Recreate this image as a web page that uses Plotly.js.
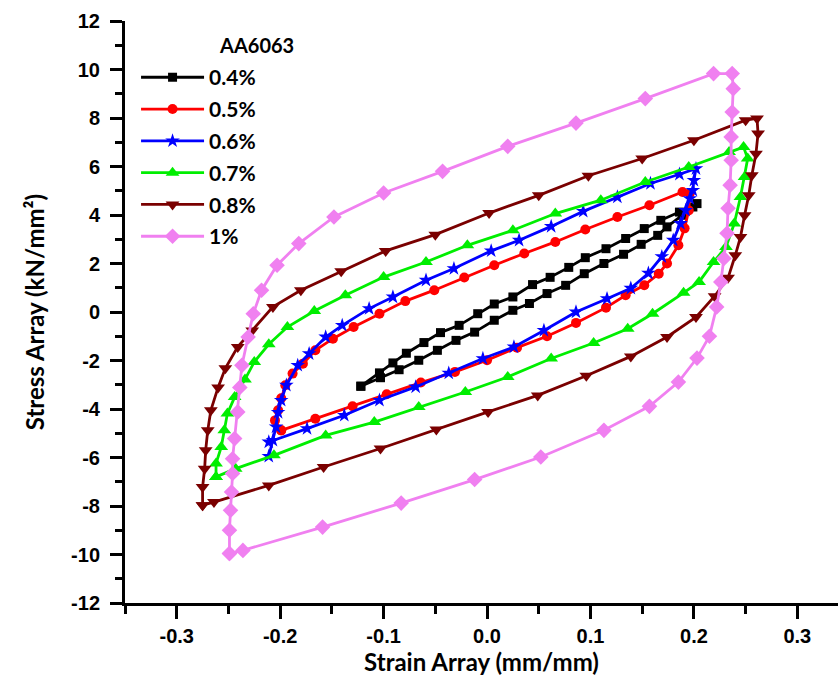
<!DOCTYPE html>
<html>
<head>
<meta charset="utf-8">
<script src="https://cdn.plot.ly/plotly-3.0.1.min.js"></script>
<style>html,body{margin:0;padding:0;background:#fff;}#chart{width:838px;height:690px;}</style>
</head>
<body>
<div id="chart"></div>
<script>
// ---- Data ----
const seriesNames = ["0.4%", "0.5%", "0.6%", "0.7%", "0.8%", "1%"];
const legendTitle = "AA6063";

const strain04 = [-0.122,-0.104,-0.091,-0.078,-0.061,-0.045,-0.027,-0.009,0.007,0.025,0.044,0.061,0.079,0.095,0.115,0.134,0.152,0.168,0.186,0.203,
                  0.199,0.189,0.174,0.165,0.149,0.132,0.113,0.094,0.076,0.058,0.041,0.025,0.007,-0.012,-0.030,-0.048,-0.066,-0.085,-0.103,-0.122];
const stress04 = [-3.06,-2.51,-2.10,-1.70,-1.26,-0.85,-0.55,-0.07,0.33,0.62,1.13,1.43,1.84,2.24,2.61,3.03,3.44,3.78,4.12,4.47,
                  4.33,3.99,3.51,3.16,2.79,2.38,2.00,1.58,1.10,0.76,0.35,0.07,-0.34,-0.83,-1.17,-1.58,-1.99,-2.38,-2.71,-3.06];

const strain05 = [-0.199,-0.205,-0.202,-0.199,-0.195,-0.188,-0.178,-0.166,-0.149,-0.129,-0.104,-0.079,-0.051,-0.022,0.007,0.036,0.066,0.095,0.126,0.157,0.189,
                  0.196,0.195,0.191,0.185,0.174,0.166,0.152,0.134,0.115,0.086,0.058,0.029,0.000,-0.031,-0.064,-0.097,-0.130,-0.166,-0.199];
const stress05 = [-4.88,-4.47,-4.05,-3.56,-3.02,-2.54,-2.13,-1.58,-1.10,-0.62,-0.07,0.45,0.90,1.42,1.93,2.41,2.89,3.40,3.92,4.40,4.95,
                  4.90,4.19,3.45,2.75,2.00,1.58,1.10,0.69,0.18,-0.45,-1.00,-1.47,-1.99,-2.47,-2.91,-3.39,-3.89,-4.40,-4.88];

const strain06 = [-0.211,-0.207,-0.204,-0.202,-0.199,-0.194,-0.183,-0.172,-0.156,-0.140,-0.114,-0.091,-0.059,-0.032,0.004,0.031,0.062,0.093,0.126,0.158,0.186,0.202,
                  0.200,0.199,0.196,0.192,0.187,0.180,0.169,0.156,0.139,0.116,0.086,0.055,0.026,-0.004,-0.037,-0.069,-0.104,-0.138,-0.174,-0.211];
const stress06 = [-5.95,-5.29,-4.74,-4.14,-3.64,-3.02,-2.20,-1.72,-1.03,-0.55,0.14,0.62,1.31,1.79,2.52,2.96,3.53,4.15,4.74,5.30,5.68,5.91,
                  5.43,5.02,4.68,4.19,3.65,2.96,2.28,1.60,0.98,0.55,0.00,-0.76,-1.44,-1.92,-2.52,-3.09,-3.64,-4.26,-4.81,-5.36,-5.95];

const strain07 = [-0.262,-0.262,-0.257,-0.254,-0.251,-0.244,-0.234,-0.225,-0.211,-0.193,-0.167,-0.137,-0.100,-0.059,-0.019,0.025,0.066,0.110,0.153,0.195,0.234,0.248,
                  0.252,0.249,0.245,0.239,0.231,0.219,0.205,0.190,0.160,0.136,0.103,0.062,0.020,-0.021,-0.066,-0.109,-0.156,-0.206,-0.243,-0.262];
const stress07 = [-6.80,-6.25,-5.57,-4.88,-4.19,-3.51,-2.78,-2.06,-1.33,-0.62,0.04,0.69,1.44,2.06,2.75,3.37,4.06,4.61,5.36,5.98,6.60,6.80,
                  6.33,5.57,4.74,3.65,2.68,2.06,1.24,0.79,-0.07,-0.69,-1.28,-1.92,-2.68,-3.30,-3.92,-4.54,-5.09,-5.91,-6.46,-6.80];

const strain08 = [-0.275,-0.275,-0.273,-0.272,-0.270,-0.267,-0.260,-0.253,-0.241,-0.227,-0.207,-0.180,-0.141,-0.098,-0.050,0.002,0.050,0.098,0.150,0.200,0.250,0.261,
                  0.262,0.260,0.256,0.253,0.249,0.245,0.240,0.233,0.220,0.202,0.174,0.139,0.096,0.049,0.001,-0.049,-0.103,-0.158,-0.211,-0.264,-0.275];
const stress08 = [-7.97,-7.22,-6.46,-5.70,-4.88,-4.05,-3.11,-2.32,-1.44,-0.76,0.21,0.90,1.68,2.52,3.19,4.08,4.81,5.62,6.33,7.08,7.91,7.98,
                  7.36,6.53,5.64,4.81,3.99,3.09,2.34,1.41,0.65,-0.21,-1.03,-1.83,-2.63,-3.44,-4.12,-4.85,-5.63,-6.39,-7.15,-7.84,-7.97];

const strain10 = [-0.249,-0.249,-0.248,-0.247,-0.246,-0.246,-0.244,-0.241,-0.239,-0.237,-0.231,-0.226,-0.218,-0.203,-0.182,-0.148,-0.100,-0.043,0.020,0.086,0.153,0.219,0.237,
                  0.238,0.237,0.236,0.236,0.235,0.233,0.232,0.229,0.226,0.222,0.215,0.203,0.185,0.157,0.113,0.052,-0.012,-0.083,-0.159,-0.236,-0.249];
const stress10 = [-9.96,-9.00,-8.18,-7.42,-6.66,-6.05,-5.22,-4.12,-3.11,-2.20,-1.03,-0.07,0.90,1.93,2.82,3.92,4.91,5.80,6.83,7.79,8.80,9.83,9.83,
                  9.21,8.25,7.22,6.26,5.23,4.28,3.25,2.21,1.24,0.21,-1.00,-1.90,-2.89,-3.89,-4.88,-5.98,-6.91,-7.88,-8.87,-9.83,-9.96];

const xTickVals = [-0.3, -0.2, -0.1, 0.0, 0.1, 0.2, 0.3];
const xTickText = ["-0.3", "-0.2", "-0.1", "0.0", "0.1", "0.2", "0.3"];
const yTickVals = [-12, -10, -8, -6, -4, -2, 0, 2, 4, 6, 8, 10, 12];
const yTickText = ["-12", "-10", "-8", "-6", "-4", "-2", "0", "2", "4", "6", "8", "10", "12"];

// ---- Styling ----
const xs = [strain04, strain05, strain06, strain07, strain08, strain10];
const ys = [stress04, stress05, stress06, stress07, stress08, stress10];
const colors = ["#000000", "#FF0000", "#0000FF", "#00EE00", "#7A0000", "#F080F0"];
const symbols = ["square", "circle", "star", "triangle-up", "triangle-down", "diamond"];
const msizes = [9, 10, 11, 12, 12, 12];
const bold = s => "<b>" + s + "</b>";

const traces = xs.map((x, i) => ({
  type: "scatter",
  mode: "lines+markers",
  x: x,
  y: ys[i],
  name: bold(seriesNames[i]),
  line: {color: colors[i], width: 2.8},
  marker: {color: colors[i], symbol: symbols[i], size: msizes[i]},
  legendgroup: "g" + i
}));

const tickFont = {family: "Liberation Sans", size: 20, color: "#000"};
const titleFont = {family: "Lato", size: 24, color: "#000"};
const legendFont = {family: "Lato", size: 21, color: "#000"};

const layout = {
  width: 838,
  height: 690,
  font: tickFont,
  margin: {l: 125, r: 0, t: 21, b: 87, pad: 0},
  paper_bgcolor: "#fff",
  plot_bgcolor: "#fff",
  showlegend: true,
  legend: {
    x: 0.0155, xanchor: "left",
    y: 0.938, yanchor: "top",
    font: legendFont,
    itemwidth: 63,
    tracegroupgap: 1.5,
    bgcolor: "rgba(0,0,0,0)",
    borderwidth: 0
  },
  annotations: [{
    text: bold(legendTitle), xref: "paper", yref: "paper",
    x: 0.129, y: 0.958, xanchor: "left", yanchor: "middle",
    showarrow: false,
    font: {family: "Lato", size: 20, color: "#000"}
  }],
  xaxis: {
    range: [-0.35, 0.3393],
    tickmode: "array", tickvals: xTickVals, ticktext: xTickText.map(bold),
    ticks: "outside", ticklen: 13, tickwidth: 3, tickcolor: "#000",
    minor: {dtick: 0.05, tick0: 0, ticks: "outside", ticklen: 8, tickwidth: 3, tickcolor: "#000", showgrid: false},
    showline: true, linewidth: 3, linecolor: "#000",
    showgrid: false, zeroline: false,
    tickfont: {family: "Liberation Sans", size: 20, color: "#000"},
    title: {text: bold("Strain Array (mm/mm)"), font: titleFont, standoff: 5}
  },
  yaxis: {
    range: [-12, 12],
    tickmode: "array", tickvals: yTickVals, ticktext: yTickText.map(bold),
    ticks: "outside", ticklen: 12, tickwidth: 3, tickcolor: "#000",
    ticklabelstandoff: 6,
    minor: {dtick: 1, tick0: 0, ticks: "outside", ticklen: 7, tickwidth: 3, tickcolor: "#000", showgrid: false},
    showline: true, linewidth: 3, linecolor: "#000",
    showgrid: false, zeroline: false,
    tickfont: {family: "Liberation Sans", size: 20, color: "#000"},
    title: {text: bold("Stress Array (kN/mm²)"), font: titleFont, standoff: 20}
  }
};

Plotly.newPlot("chart", traces, layout, {displayModeBar: false, staticPlot: true});
</script>
</body>
</html>
